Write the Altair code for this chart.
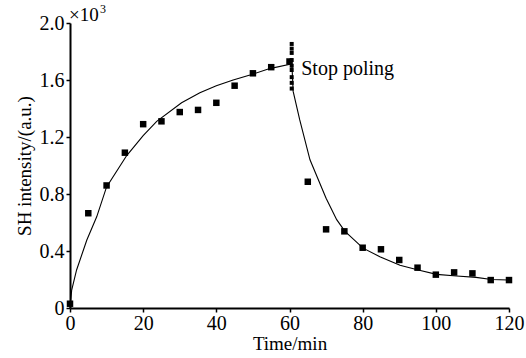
import altair as alt
import pandas as pd

# Measured data points (square markers)
t_pts = [0, 5, 10, 15, 20, 25, 30, 35, 40, 45, 50, 55, 60,
         65, 70, 75, 80, 85, 90, 95, 100, 105, 110, 115, 120]
v_pts = [0.03, 0.665, 0.86, 1.09, 1.29, 1.31, 1.375, 1.39, 1.44, 1.56, 1.647, 1.69, 1.73,
         0.886, 0.552, 0.538, 0.423, 0.412, 0.337, 0.283, 0.234, 0.25, 0.243, 0.196, 0.196]

# Dotted vertical stack at the moment poling stops
t_stack = [60.6] * 9
v_stack = [1.853, 1.82, 1.79, 1.74, 1.70, 1.67, 1.62, 1.58, 1.54]

# Fitted curve
t_fit = [0, 0.46, 1.8, 4.6, 7.3, 10.0, 15.5, 20, 23.7, 30.5, 35.5, 40, 44.6, 49.2, 54.6, 60.1, 60.6,
         61.0, 62.8, 65.6, 70.0, 72.9, 75.1, 80.1, 84.7, 90.2, 95.2, 100.2, 105.7, 111, 115.2, 119.8]
v_fit = [0.0, 0.126, 0.267, 0.477, 0.64, 0.85, 1.07, 1.21, 1.31, 1.44, 1.51, 1.56, 1.60, 1.635, 1.68, 1.71, 1.74,
         1.52, 1.32, 1.04, 0.77, 0.62, 0.54, 0.42, 0.36, 0.30, 0.267, 0.236, 0.225, 0.215, 0.20, 0.197]

x_ticks = list(range(0, 121, 10))
y_ticks = [round(i * 0.2, 1) for i in range(11)]

FONT = "Liberation Serif"

pts = pd.DataFrame({"t": t_pts, "v": v_pts})
stack = pd.DataFrame({"t": t_stack, "v": v_stack})
fit = pd.DataFrame({"t": t_fit, "v": v_fit, "i": list(range(len(t_fit)))})

xscale = alt.Scale(domain=[0, 120], nice=False, zero=False)
yscale = alt.Scale(domain=[0, 2.0], nice=False, zero=False)

xaxis = alt.Axis(values=x_ticks, title="Time/min",
                 labelExpr="datum.value % 20 == 0 ? datum.label : ''",
                 format="d", grid=False, tickSize=4, tickWidth=1.5, tickColor="black",
                 domainColor="black", domainWidth=2, labelFont=FONT, labelFontSize=20,
                 labelColor="black", titleFont=FONT, titleFontSize=19, titleFontWeight="normal",
                 titleColor="black", labelPadding=1, titlePadding=1, labelFlush=False)
yaxis = alt.Axis(values=y_ticks, title="SH intensity/(a.u.)",
                 labelExpr="datum.value == 0 ? '0' : (round(datum.value * 10) % 4 == 0 ? format(datum.value, '.1f') : '')",
                 grid=False, tickSize=4, tickWidth=1.5, tickColor="black",
                 domainColor="black", domainWidth=2, labelFont=FONT, labelFontSize=20,
                 labelColor="black", titleFont=FONT, titleFontSize=19, titleFontWeight="normal",
                 titleColor="black", labelPadding=2, titlePadding=5, labelFlush=False)

curve = alt.Chart(fit).mark_line(color="black", strokeWidth=1.1).encode(
    x=alt.X("t:Q", scale=xscale, axis=xaxis),
    y=alt.Y("v:Q", scale=yscale, axis=yaxis),
    order="i:O",
)

squares = alt.Chart(pts).mark_square(color="black", opacity=1, size=42).encode(
    x=alt.X("t:Q", scale=xscale),
    y=alt.Y("v:Q", scale=yscale),
)

dots = alt.Chart(stack).mark_square(color="black", opacity=1, size=16).encode(
    x=alt.X("t:Q", scale=xscale),
    y=alt.Y("v:Q", scale=yscale),
)

ann = pd.DataFrame({"t": [63.2], "v": [1.68], "txt": ["Stop poling"]})
stop = alt.Chart(ann).mark_text(font=FONT, fontSize=20, align="left", baseline="middle",
                                color="black").encode(
    x=alt.X("t:Q", scale=xscale), y=alt.Y("v:Q", scale=yscale), text="txt:N")

mult = pd.DataFrame({"t": [0], "v": [2.0], "txt": ["×10"]})
mult_txt = alt.Chart(mult).mark_text(font=FONT, fontSize=19, align="left", baseline="alphabetic",
                                     color="black", dx=-1, dy=-2).encode(
    x=alt.X("t:Q", scale=xscale), y=alt.Y("v:Q", scale=yscale), text="txt:N")
exp = pd.DataFrame({"t": [0], "v": [2.0], "txt": ["3"]})
exp_txt = alt.Chart(exp).mark_text(font=FONT, fontSize=12, align="left", baseline="alphabetic",
                                   color="black", dx=30, dy=-10).encode(
    x=alt.X("t:Q", scale=xscale), y=alt.Y("v:Q", scale=yscale), text="txt:N")

chart = alt.layer(curve, squares, dots, stop, mult_txt, exp_txt).properties(
    width=439, height=285,
    autosize=alt.AutoSizeParams(type="none"),
    padding={"left": 70, "top": 23, "right": 17, "bottom": 50},
    background="white",
).configure_view(stroke=None)

chart.save("out.html", embed_options={"renderer": "svg", "actions": False})
